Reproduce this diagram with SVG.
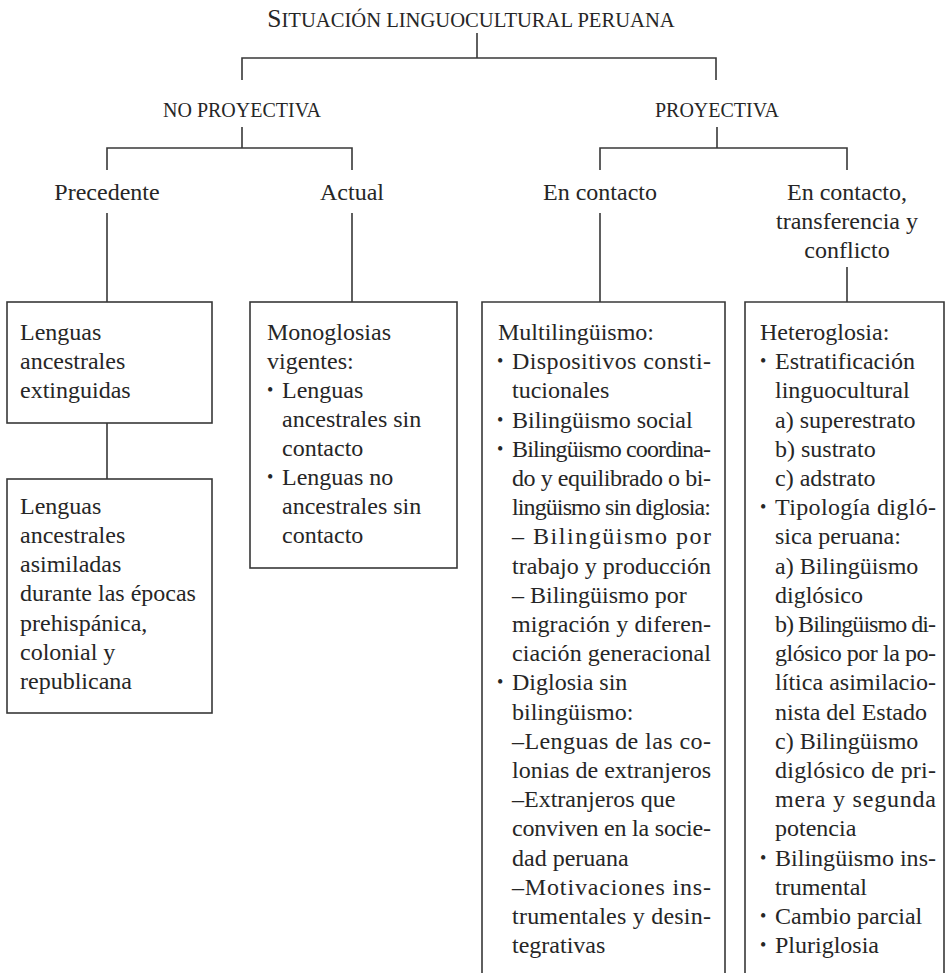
<svg xmlns="http://www.w3.org/2000/svg" width="947" height="973" viewBox="0 0 947 973">
<style>
  .t { font-family: "Liberation Serif", "Times New Roman", serif; font-size: 24px; fill: #262626; }
  .cap { font-family: "Liberation Serif", "Times New Roman", serif; font-size: 20px; fill: #262626; }
  .ttl { font-size: 20.6px; }
  .c { text-anchor: middle; }
  .b { font-family: "Liberation Serif", "Times New Roman", serif; font-size: 18px; fill: #262626; }
  .ln { fill: none; stroke: #383838; stroke-width: 1.6; }
  .box { fill: none; stroke: #383838; stroke-width: 1.6; }
</style>
<rect width="947" height="973" fill="#ffffff"/>

<g id="connectors">
  <path class="ln" d="M477,33 V58"/>
  <path class="ln" d="M242,80 V58 H716 V80"/>
  <path class="ln" d="M242,127 V148"/>
  <path class="ln" d="M107,170 V148 H352 V170"/>
  <path class="ln" d="M717,127 V148"/>
  <path class="ln" d="M600,170 V148 H847 V170"/>
  <path class="ln" d="M107,213 V302"/>
  <path class="ln" d="M352,213 V302"/>
  <path class="ln" d="M600,213 V302"/>
  <path class="ln" d="M847,267 V302"/>
  <path class="ln" d="M107,423 V479"/>
</g>

<g id="title">
  <text class="cap ttl c" x="471" y="27"><tspan font-size="25.5">S</tspan>ITUACIÓN LINGUOCULTURAL PERUANA</text>
</g>

<g id="no-proyectiva">
  <text class="cap c" x="242" y="117">NO PROYECTIVA</text>
</g>
<g id="proyectiva">
  <text class="cap c" x="717" y="117">PROYECTIVA</text>
</g>

<g id="precedente">
  <text class="t c" x="107" y="200">Precedente</text>
</g>
<g id="actual">
  <text class="t c" x="352" y="200">Actual</text>
</g>
<g id="en-contacto">
  <text class="t c" x="600" y="200">En contacto</text>
</g>
<g id="en-contacto-transferencia">
  <text class="t c" x="847" y="200">En contacto,</text>
  <text class="t c" x="847" y="229">transferencia y</text>
  <text class="t c" x="847" y="258">conflicto</text>
</g>

<g id="box-extinguidas">
  <rect class="box" x="7" y="302" width="205" height="121"/>
  <text class="t" x="20" y="340">Lenguas</text>
  <text class="t" x="20" y="369">ancestrales</text>
  <text class="t" x="20" y="398">extinguidas</text>
</g>

<g id="box-asimiladas">
  <rect class="box" x="7" y="479" width="205" height="234"/>
  <text class="t" x="20" y="514">Lenguas</text>
  <text class="t" x="20" y="543">ancestrales</text>
  <text class="t" x="20" y="572">asimiladas</text>
  <text class="t" x="20" y="601">durante las épocas</text>
  <text class="t" x="20" y="631">prehispánica,</text>
  <text class="t" x="20" y="660">colonial y</text>
  <text class="t" x="20" y="689">republicana</text>
</g>

<g id="box-monoglosias">
  <rect class="box" x="250" y="302" width="207" height="266"/>
  <text class="t" x="267" y="340">Monoglosias</text>
  <text class="t" x="267" y="369">vigentes:</text>
  <text class="b" x="267" y="396">•</text>
  <text class="t" x="282" y="398">Lenguas</text>
  <text class="t" x="282" y="427">ancestrales sin</text>
  <text class="t" x="282" y="456">contacto</text>
  <text class="b" x="267" y="483">•</text>
  <text class="t" x="282" y="485">Lenguas no</text>
  <text class="t" x="282" y="514">ancestrales sin</text>
  <text class="t" x="282" y="543">contacto</text>
</g>

<g id="box-multilinguismo">
  <path class="box" d="M482,973 V302 H725 V973"/>
  <text class="t" x="498" y="340">Multilingüismo:</text>
  <text class="b" x="497" y="367">•</text>
  <text class="t" x="512" y="369" textLength="199">Dispositivos consti-</text>
  <text class="t" x="512" y="398">tucionales</text>
  <text class="b" x="497" y="426">•</text>
  <text class="t" x="512" y="428">Bilingüismo social</text>
  <text class="b" x="497" y="455">•</text>
  <text class="t" x="512" y="457" textLength="199">Bilingüismo coordina-</text>
  <text class="t" x="512" y="486" textLength="199">do y equilibrado o bi-</text>
  <text class="t" x="512" y="515" textLength="199">lingüismo sin diglosia:</text>
  <text class="t" x="512" y="544" textLength="199">– Bilingüismo por</text>
  <text class="t" x="512" y="574" textLength="199">trabajo y producción</text>
  <text class="t" x="512" y="603">– Bilingüismo por</text>
  <text class="t" x="512" y="632" textLength="199">migración y diferen-</text>
  <text class="t" x="512" y="661" textLength="199">ciación generacional</text>
  <text class="b" x="497" y="688">•</text>
  <text class="t" x="512" y="690">Diglosia sin</text>
  <text class="t" x="512" y="720">bilingüismo:</text>
  <text class="t" x="512" y="749" textLength="199">–Lenguas de las co-</text>
  <text class="t" x="512" y="778" textLength="199">lonias de extranjeros</text>
  <text class="t" x="512" y="807">–Extranjeros que</text>
  <text class="t" x="512" y="836" textLength="199">conviven en la socie-</text>
  <text class="t" x="512" y="866">dad peruana</text>
  <text class="t" x="512" y="895" textLength="199">–Motivaciones ins-</text>
  <text class="t" x="512" y="924" textLength="199">trumentales y desin-</text>
  <text class="t" x="512" y="953">tegrativas</text>
</g>

<g id="box-heteroglosia">
  <path class="box" d="M745,973 V302 H944 V973"/>
  <text class="t" x="760" y="340">Heteroglosia:</text>
  <text class="b" x="760" y="367">•</text>
  <text class="t" x="775" y="369">Estratificación</text>
  <text class="t" x="775" y="398">linguocultural</text>
  <text class="t" x="775" y="428">a) superestrato</text>
  <text class="t" x="775" y="457">b) sustrato</text>
  <text class="t" x="775" y="486">c) adstrato</text>
  <text class="b" x="760" y="513">•</text>
  <text class="t" x="775" y="515" textLength="161">Tipología digló-</text>
  <text class="t" x="775" y="544">sica peruana:</text>
  <text class="t" x="775" y="574">a) Bilingüismo</text>
  <text class="t" x="775" y="603">diglósico</text>
  <text class="t" x="775" y="632" textLength="161">b) Bilingüismo di-</text>
  <text class="t" x="775" y="661" textLength="161">glósico por la po-</text>
  <text class="t" x="775" y="690" textLength="161">lítica asimilacio-</text>
  <text class="t" x="775" y="720">nista del Estado</text>
  <text class="t" x="775" y="749">c) Bilingüismo</text>
  <text class="t" x="775" y="778" textLength="161">diglósico de pri-</text>
  <text class="t" x="775" y="807" textLength="161">mera y segunda</text>
  <text class="t" x="775" y="836">potencia</text>
  <text class="b" x="760" y="864">•</text>
  <text class="t" x="775" y="866" textLength="161">Bilingüismo ins-</text>
  <text class="t" x="775" y="895">trumental</text>
  <text class="b" x="760" y="922">•</text>
  <text class="t" x="775" y="924">Cambio parcial</text>
  <text class="b" x="760" y="951">•</text>
  <text class="t" x="775" y="953">Pluriglosia</text>
</g>
</svg>
